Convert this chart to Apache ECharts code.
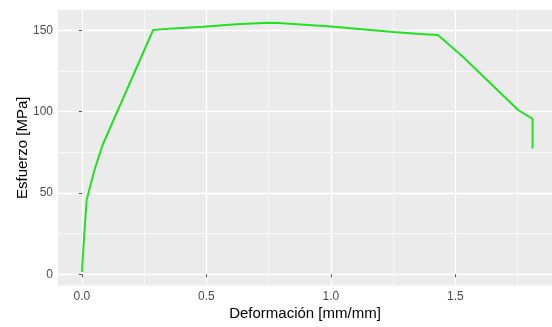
<!DOCTYPE html>
<html>
<head>
<meta charset="utf-8">
<script src="https://cdn.jsdelivr.net/npm/echarts@6/dist/echarts.min.js"></script>
<style>
html, body { margin: 0; padding: 0; background: #fff; }
#chart { width: 552px; height: 327px; }
</style>
</head>
<body>
<div id="chart"></div>
<script>
var deformacion = [0, 0.008, 0.019, 0.05, 0.083, 0.286, 0.365, 0.486, 0.62, 0.75, 0.79, 1.0, 1.25, 1.357, 1.43, 1.53, 1.752, 1.81, 1.81];
var esfuerzo = [1.5, 21, 45.7, 64, 79.5, 150.2, 151.2, 152.2, 153.8, 154.6, 154.5, 152.3, 149, 147.8, 147.1, 133.7, 101, 95.5, 77.4];

var xTicks = [0, 0.5, 1, 1.5];
var xMinor = [0.25, 0.75, 1.25, 1.75];
var yTicks = [0, 50, 100, 150];
var yMinor = [25, 75, 125];

var puntos = [];
for (var i = 0; i < deformacion.length; i++) {
	puntos.push([deformacion[i], esfuerzo[i]]);
}

var myChart = echarts.init(document.getElementById('chart'));

var xMin = -0.096, xMax = 1.888;
var yMin = -6.9, yMax = 162.5;

var option = {
	animation: false,
	textStyle: { fontFamily: 'Liberation Sans, Arial, sans-serif' },
	grid: {
		left: 58,
		right: 0,
		top: 10,
		bottom: 41.5,
		show: true,
		backgroundColor: '#EBEBEB',
		borderWidth: 0
	},
	xAxis: [{
		type: 'value',
		min: xMin,
		max: xMax,
		name: 'Deformación [mm/mm]',
		nameLocation: 'middle',
		nameGap: 21,
		nameMoveOverlap: false,
		nameTextStyle: { color: '#000', fontSize: 15 },
		axisLine: { show: false },
		axisTick: { show: true, length: 3, lineStyle: { color: '#555' }, customValues: xTicks },
		axisLabel: {
			color: '#4d4d4d', fontSize: 12, margin: 5,
			customValues: xTicks,
			formatter: function (v) { return v.toFixed(1); }
		},
		splitLine: { show: true, lineStyle: { color: '#fff', width: 1.3 } }
	}, {
		type: 'value',
		min: xMin,
		max: xMax,
		axisLine: { show: false },
		axisTick: { show: false, customValues: xMinor },
		axisLabel: { show: false },
		splitLine: { show: true, lineStyle: { color: '#fff', width: 0.6 } }
	}],
	yAxis: [{
		type: 'value',
		min: yMin,
		max: yMax,
		name: 'Esfuerzo [MPa]',
		nameLocation: 'middle',
		nameGap: 28,
		nameMoveOverlap: false,
		nameTextStyle: { color: '#000', fontSize: 15 },
		axisLine: { show: false },
		axisTick: { show: true, length: 3, lineStyle: { color: '#555' }, customValues: yTicks },
		axisLabel: { color: '#4d4d4d', fontSize: 12, margin: 5, customValues: yTicks },
		splitLine: { show: true, lineStyle: { color: '#fff', width: 1.3 } }
	}, {
		type: 'value',
		min: yMin,
		max: yMax,
		axisLine: { show: false },
		axisTick: { show: false, customValues: yMinor },
		axisLabel: { show: false },
		splitLine: { show: true, lineStyle: { color: '#fff', width: 0.6 } }
	}],
	series: [{
		type: 'line',
		data: puntos,
		showSymbol: false,
		lineStyle: { color: '#22e022', width: 2 },
		z: 5
	}]
};

myChart.setOption(option);
</script>
</body>
</html>
